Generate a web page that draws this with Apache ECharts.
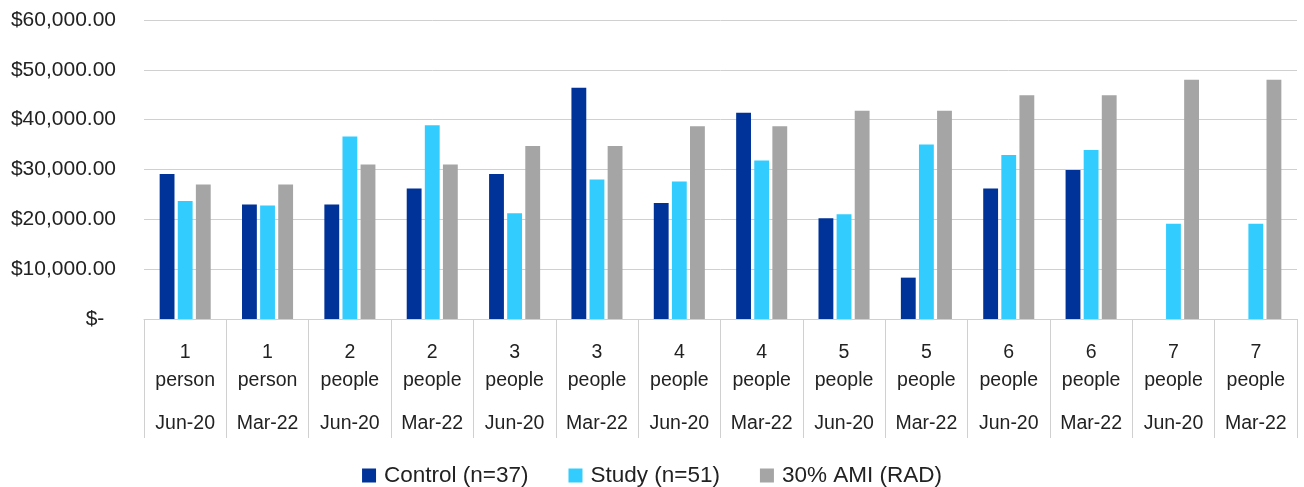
<!DOCTYPE html>
<html>
<head>
<meta charset="utf-8">
<script src="https://cdn.jsdelivr.net/npm/echarts@6/dist/echarts.min.js"></script>
<style>
html,body{margin:0;padding:0;background:#fff;}
#chart{width:1304px;height:487px;}
</style>
</head>
<body>
<div id="chart"></div>
<script>
const householdSizes = ['1 person','1 person','2 people','2 people','3 people','3 people','4 people','4 people','5 people','5 people','6 people','6 people','7 people','7 people'];
const periods = ['Jun-20','Mar-22','Jun-20','Mar-22','Jun-20','Mar-22','Jun-20','Mar-22','Jun-20','Mar-22','Jun-20','Mar-22','Jun-20','Mar-22'];
const controlValues = [29100, 23000, 23000, 26200, 29100, 46400, 23300, 41400, 20200, 8300, 26200, 29900, null, null];
const studyValues = [23700, 22800, 36600, 38900, 21200, 28000, 27600, 31800, 21000, 35000, 32900, 33900, 19100, 19100];
const amiValues = [27000, 27000, 31000, 31000, 34700, 34700, 38700, 38700, 41800, 41800, 44900, 44900, 48000, 48000];
const seriesNames = ['Control (n=37)', 'Study (n=51)', '30% AMI (RAD)'];
const yTicks = {min: 0, max: 60000, interval: 10000};

const categories = householdSizes.map((s, i) => s + '|' + periods[i]);
const font = 'Liberation Sans, Arial, sans-serif';

const chart = echarts.init(document.getElementById('chart'), null, {renderer: 'canvas'});
chart.setOption({
  animation: false,
  textStyle: {fontFamily: font},
  grid: {left: 144, right: 7, top: 20, bottom: 168, containLabel: false},
  legend: {
    data: seriesNames,
    left: 'center',
    top: 459,
    icon: 'rect',
    itemWidth: 14,
    itemHeight: 14,
    itemGap: 40,
    textStyle: {fontFamily: font, fontSize: 22.5, color: '#222', padding: [0, 0, 0, 3]}
  },
  xAxis: {
    type: 'category',
    data: categories,
    axisLine: {show: true, lineStyle: {color: '#d0d0d0', width: 1}},
    axisTick: {show: true, interval: 0, length: 119, lineStyle: {color: '#d0d0d0', width: 1}},
    axisLabel: {
      interval: 0,
      margin: 20,
      formatter: function (v) {
        const p = v.split('|');
        const parts = p[0].split(' ');
        return '{a|' + parts[0] + '}\n{a|' + parts[1] + '}\n{b|' + p[1] + '}';
      },
      rich: {
        a: {fontFamily: font, fontSize: 19.5, lineHeight: 28, color: '#222'},
        b: {fontFamily: font, fontSize: 19.5, lineHeight: 58, color: '#222'}
      }
    }
  },
  yAxis: {
    type: 'value',
    min: yTicks.min,
    max: yTicks.max,
    interval: yTicks.interval,
    axisLine: {show: false},
    axisTick: {show: false},
    splitLine: {lineStyle: {color: '#d0d0d0', width: 1}},
    axisLabel: {
      margin: 28,
      fontFamily: font,
      fontSize: 21,
      color: '#222',
      formatter: function (v) {
        if (v === 0) return '$-  ';
        return '$' + v.toLocaleString('en-US', {minimumFractionDigits: 2, maximumFractionDigits: 2});
      }
    }
  },
  series: [
    {name: seriesNames[0], type: 'bar', data: controlValues, itemStyle: {color: '#003399'}, barGap: '22%', barCategoryGap: '38%'},
    {name: seriesNames[1], type: 'bar', data: studyValues, itemStyle: {color: '#33CCFF'}, barGap: '22%', barCategoryGap: '38%'},
    {name: seriesNames[2], type: 'bar', data: amiValues, itemStyle: {color: '#A5A5A5'}, barGap: '22%', barCategoryGap: '38%'}
  ]
});
</script>
</body>
</html>
